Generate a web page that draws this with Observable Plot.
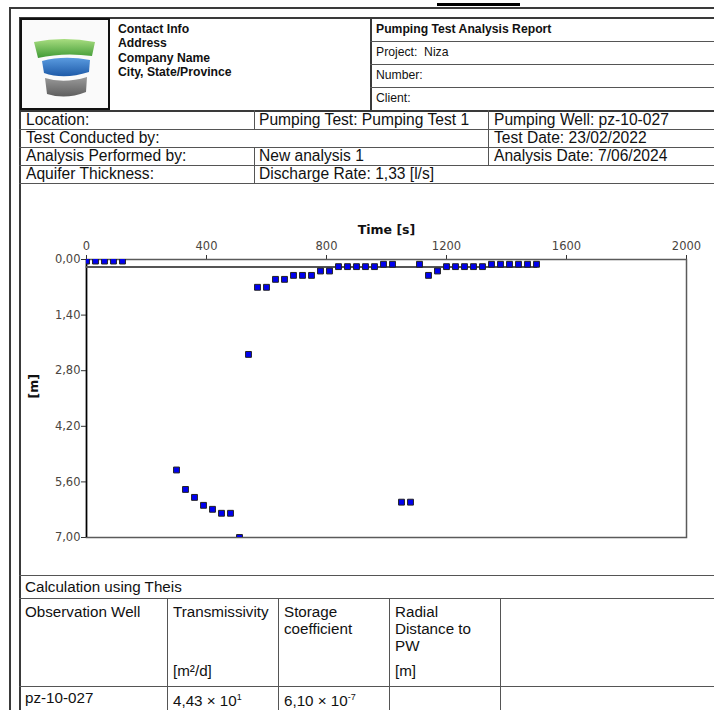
<!DOCTYPE html>
<html>
<head>
<meta charset="utf-8">
<script src="https://cdn.jsdelivr.net/npm/d3@7"></script>
<script src="https://cdn.jsdelivr.net/npm/@observablehq/plot@0.6"></script>
<style>
  html, body { margin:0; padding:0; background:#fff; }
  body { width:714px; height:710px; position:relative; overflow:hidden; font-family:"Liberation Sans", Arial, sans-serif; color:#111; }
  .ln { position:absolute; background:#3a3a3a; }
  .t { position:absolute; white-space:nowrap; }
  .hdr { font-size:12.2px; }
  .info { font-size:15.6px; line-height:18px; }
  .tab { font-size:15.2px; line-height:17px; }
  #chart { position:absolute; left:20px; top:184px; }
</style>
</head>
<body>
<div class="ln" style="left:437px;top:3px;width:83px;height:3px;background:#000"></div>
<div class="ln" style="left:9px;top:7px;width:705px;height:1.5px"></div>
<div class="ln" style="left:9px;top:7px;width:1.5px;height:703px"></div>
<div class="ln" style="left:19px;top:17px;width:695px;height:1.5px"></div>
<div class="ln" style="left:19px;top:17px;width:1.5px;height:693px"></div>

<div style="position:absolute;left:20px;top:18px;width:86px;height:88px;border:2px solid #111;background:#fafafa">
  <svg width="86" height="88" viewBox="0 0 86 88">
    <defs>
      <linearGradient id="g1" x1="0" y1="0" x2="0" y2="1"><stop offset="0" stop-color="#a8dd80"/><stop offset="1" stop-color="#3f9a35"/></linearGradient>
      <linearGradient id="g2" x1="0" y1="0" x2="0" y2="1"><stop offset="0" stop-color="#5a9be0"/><stop offset="1" stop-color="#1e5aa8"/></linearGradient>
      <linearGradient id="g3" x1="0" y1="0" x2="0" y2="1"><stop offset="0" stop-color="#9a9a9a"/><stop offset="1" stop-color="#5e5e5e"/></linearGradient>
    </defs>
    <path d="M12 22 Q42 16 73 22 L70 36 Q42 32 16 38 Z" fill="url(#g1)"/>
    <path d="M20 41 Q42 35 68 40 L67 52 Q42 60 22 53 Z" fill="url(#g2)"/>
    <path d="M23 58 Q42 64 65 57 L64 72 Q44 80 25 74 Z" fill="url(#g3)"/>
  </svg>
</div>
<div class="t hdr" style="left:118px;top:22px;font-weight:bold;line-height:14.3px">Contact Info<br>Address<br>Company Name<br>City, State/Province</div>

<div class="ln" style="left:370px;top:17px;width:1.5px;height:93px"></div>
<div class="ln" style="left:370px;top:41px;width:344px;height:1px;background:#555"></div>
<div class="ln" style="left:370px;top:64px;width:344px;height:1px;background:#555"></div>
<div class="ln" style="left:370px;top:87px;width:344px;height:1px;background:#555"></div>
<div class="t hdr" style="left:376px;top:22px;font-weight:bold">Pumping Test Analysis Report</div>
<div class="t hdr" style="left:376px;top:45px">Project:&nbsp;&nbsp;Niza</div>
<div class="t hdr" style="left:376px;top:68px">Number:</div>
<div class="t hdr" style="left:376px;top:91px">Client:</div>

<div class="ln" style="left:19px;top:110px;width:695px;height:1.5px"></div>
<div class="ln" style="left:19px;top:129px;width:695px;height:1px;background:#555"></div>
<div class="ln" style="left:19px;top:147px;width:695px;height:1px;background:#555"></div>
<div class="ln" style="left:19px;top:165px;width:695px;height:1px;background:#555"></div>
<div class="ln" style="left:19px;top:183px;width:695px;height:1px;background:#555"></div>
<div class="ln" style="left:254px;top:110px;width:1px;height:19px;background:#555"></div>
<div class="ln" style="left:254px;top:147px;width:1px;height:36px;background:#555"></div>
<div class="ln" style="left:488px;top:110px;width:1px;height:55px;background:#555"></div>
<div class="t info" style="left:26px;top:111px">Location:</div>
<div class="t info" style="left:259px;top:111px">Pumping Test: Pumping Test 1</div>
<div class="t info" style="left:494px;top:111px">Pumping Well: pz-10-027</div>
<div class="t info" style="left:26px;top:129px">Test Conducted by:</div>
<div class="t info" style="left:494px;top:129px">Test Date: 23/02/2022</div>
<div class="t info" style="left:26px;top:147px">Analysis Performed by:</div>
<div class="t info" style="left:259px;top:147px">New analysis 1</div>
<div class="t info" style="left:494px;top:147px">Analysis Date: 7/06/2024</div>
<div class="t info" style="left:26px;top:165px">Aquifer Thickness:</div>
<div class="t info" style="left:259px;top:165px">Discharge Rate: 1,33 [l/s]</div>

<div id="chart"></div>

<div class="ln" style="left:19px;top:575px;width:695px;height:1px;background:#555"></div>
<div class="ln" style="left:19px;top:598px;width:695px;height:1px;background:#555"></div>
<div class="ln" style="left:19px;top:686px;width:695px;height:1px;background:#555"></div>
<div class="ln" style="left:167px;top:598px;width:1px;height:112px;background:#555"></div>
<div class="ln" style="left:278px;top:598px;width:1px;height:112px;background:#555"></div>
<div class="ln" style="left:389px;top:598px;width:1px;height:112px;background:#555"></div>
<div class="ln" style="left:500px;top:598px;width:1px;height:112px;background:#555"></div>
<div class="t tab" style="left:25px;top:578px">Calculation using Theis</div>
<div class="t tab" style="left:25px;top:603px">Observation Well</div>
<div class="t tab" style="left:173px;top:603px">Transmissivity</div>
<div class="t tab" style="left:284px;top:603px">Storage<br>coefficient</div>
<div class="t tab" style="left:395px;top:603px">Radial<br>Distance to<br>PW</div>
<div class="t tab" style="left:173px;top:662px">[m²/d]</div>
<div class="t tab" style="left:395px;top:662px">[m]</div>
<div class="t tab" style="left:25px;top:689px">pz-10-027</div>
<div class="t tab" style="left:173px;top:689px">4,43 × 10<sup style="font-size:9px">1</sup></div>
<div class="t tab" style="left:284px;top:689px">6,10 × 10<sup style="font-size:9px">-7</sup></div>

<script>
// Observed drawdown (time in s, drawdown in m)
const timeS = [0, 30, 60, 90, 120,
  300, 330, 360, 390, 420, 450, 480, 510, 540,
  570, 600, 630, 660, 690, 720, 750, 780, 810,
  840, 870, 900, 930, 960, 990, 1020,
  1050, 1080,
  1110, 1140, 1170, 1200, 1230, 1260, 1290, 1320,
  1350, 1380, 1410, 1440, 1470, 1500];
const drawdownM = [0.04, 0.04, 0.04, 0.04, 0.04,
  5.30, 5.79, 5.99, 6.19, 6.29, 6.39, 6.39, 7.00, 2.39,
  0.70, 0.70, 0.50, 0.50, 0.40, 0.40, 0.40, 0.29, 0.29,
  0.18, 0.18, 0.18, 0.18, 0.18, 0.12, 0.12,
  6.11, 6.11,
  0.12, 0.40, 0.29, 0.18, 0.18, 0.18, 0.18, 0.18,
  0.12, 0.12, 0.12, 0.12, 0.12, 0.12];
// Theis fitted curve
const fitTime = [0, 750, 1500];
const fitDrawdown = [0.19, 0.19, 0.19];
// Axis ticks
const xTicks = [0, 400, 800, 1200, 1600, 2000];
const yTicks = [0, 1.4, 2.8, 4.2, 5.6, 7.0];
const xLabel = "Time [s]";
const yLabel = "[m]";

const obs = timeS.map((t, i) => ({t, s: drawdownM[i]}));
const fit = fitTime.map((t, i) => ({t, s: fitDrawdown[i]}));

const chart = Plot.plot({
  width: 694, height: 390,
  marginLeft: 66, marginRight: 28, marginTop: 75, marginBottom: 37,
  style: {fontFamily: "DejaVu Sans", fontSize: "11.5px", color: "#4a4540", background: "transparent", overflow: "visible"},
  x: {domain: [0, 2000]},
  y: {domain: [0, 7], reverse: true},
  marks: [
    Plot.axisX({anchor: "top", ticks: xTicks, tickSize: 5, tickPadding: 5, tickFormat: d => String(d), label: null, stroke: "#333"}),
    Plot.axisY({anchor: "left", ticks: yTicks, tickSize: 5, tickPadding: 1, tickFormat: d => d.toFixed(2).replace(".", ","), label: null, stroke: "#333"}),
    Plot.frame({stroke: "#5a5a5a", strokeWidth: 1.5}),
    Plot.ruleX([0], {stroke: "#000", strokeWidth: 1.5}),
    Plot.lineY(fit, {x: "t", y: "s", stroke: "#555", strokeWidth: 2}),
    Plot.dot(obs, {x: "t", y: "s", symbol: "square", r: 3.3, fill: "#0000f0", stroke: "#222", strokeWidth: 1, clip: true}),
    Plot.text([xLabel], {text: d => d, frameAnchor: "top", dy: -34, fontWeight: "bold", fill: "#111", fontSize: 12.5}),
    Plot.text([yLabel], {text: d => d, frameAnchor: "left", dx: -53, rotate: -90, fontWeight: "bold", fill: "#111", fontSize: 12.5})
  ]
});
document.getElementById("chart").appendChild(chart);
</script>
</body>
</html>
